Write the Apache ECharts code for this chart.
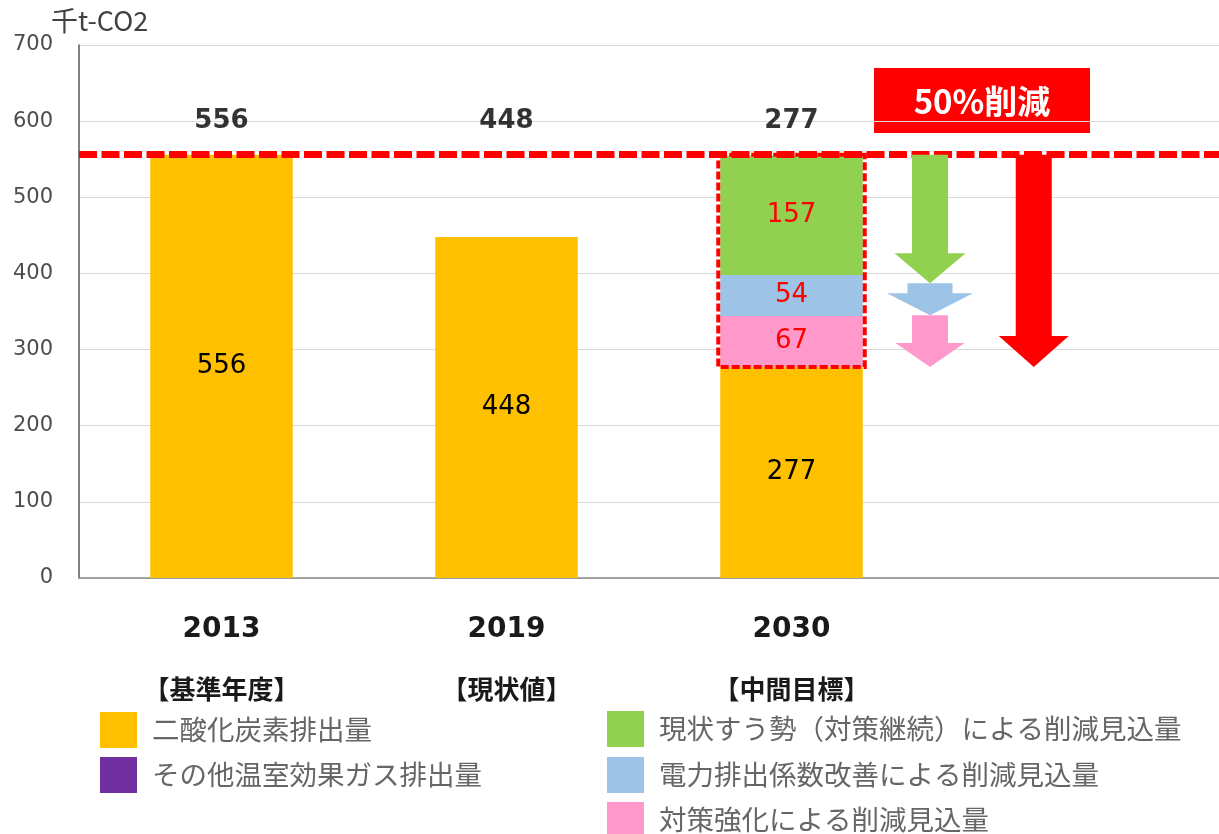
<!DOCTYPE html>
<html><head><meta charset="utf-8">
<script src="https://cdn.jsdelivr.net/npm/echarts@6/dist/echarts.min.js"></script>
<style>html,body{margin:0;padding:0;background:#fff}#c{width:1219px;height:834px}</style>
</head><body><div id="c"></div>
<script>
// ---- data ----
const categories = ['2013', '2019', '2030', ''];
const subLabels = ['【基準年度】', '【現状値】', '【中間目標】', ''];
const co2 = [556, 448, 277, '-'];
const otherGas = [0, 0, 0, '-'];
const reductionPolicy = ['-', '-', 67, '-'];
const reductionPower = ['-', '-', 54, '-'];
const reductionTrend = ['-', '-', 157, '-'];
const totals = [556, 448, 277];
const baseline = 556;
const target = 277;
const arrowTop = [556, 387, 345, 556];
const arrowTip = [387, 345, 277, 277];
const seriesNames = ['二酸化炭素排出量', 'その他温室効果ガス排出量', '現状すう勢（対策継続）による削減見込量', '電力排出係数改善による削減見込量', '対策強化による削減見込量'];
const yMin = 0, yMax = 700, yStep = 100;

// ---- styles ----
const C = { co2: '#FFC000', other: '#7030A0', trend: '#92D050', power: '#9DC3E6', policy: '#FF99CC', red: '#FF0000' };
const arrowStyles = [
  { off: 0.486, sw: 36, hw: 71, hl: 30, color: C.trend },
  { off: 0.486, sw: 45, hw: 86, hl: 22, color: C.power },
  { off: 0.486, sw: 36, hw: 69, hl: 24, color: C.policy },
  { off: 0.85, sw: 36, hw: 70, hl: 31, color: C.red }
];
const NUM = 'DejaVu Sans';
const JP = 'Noto Sans CJK JP';
const totalLabelLevel = 600;
// legend placement: [left, top] for each series name
const legendPos = [[100, 712], [100, 757], [607, 711], [607, 757], [607, 802]];

const chart = echarts.init(document.getElementById('c'), null, { renderer: 'canvas' });
const innerLabel = (color) => ({ show: true, position: 'inside', color: color, fontSize: 26, fontFamily: NUM,
  formatter: p => (p.value === 0 || p.value === '-') ? '' : p.value });

const option = {
  animation: false,
  backgroundColor: '#fff',
  textStyle: { fontFamily: NUM },
  grid: { left: 79, top: 45, width: 1144, height: 533, containLabel: false },
  legend: seriesNames.map((n, i) => ({
    data: [n], orient: 'horizontal', left: legendPos[i][0], top: legendPos[i][1], padding: 0,
    itemWidth: 37, itemHeight: 36, icon: 'rect', selectedMode: false,
    textStyle: { fontFamily: JP, fontSize: 27.5, color: '#666666', padding: [0, 0, 0, 10] }
  })),
  xAxis: {
    type: 'category', data: categories,
    axisTick: { show: false },
    axisLine: { lineStyle: { color: '#898989', width: 1.5 } },
    axisLabel: {
      margin: 27, interval: 0,
      formatter: (v, i) => v ? '{y|' + v + '}\n{s|' + subLabels[i] + '}' : '',
      rich: {
        y: { fontFamily: NUM, fontWeight: 'bold', fontSize: 28, color: '#1a1a1a', lineHeight: 50 },
        s: { fontFamily: JP, fontWeight: 'bold', fontSize: 26, color: '#1a1a1a', lineHeight: 68 }
      }
    }
  },
  yAxis: {
    type: 'value', min: yMin, max: yMax, interval: yStep,
    axisLine: { show: true, lineStyle: { color: '#595959', width: 1.5 } },
    axisTick: { show: false },
    splitLine: { lineStyle: { color: '#d9d9d9', width: 1 } },
    axisLabel: { fontFamily: NUM, fontSize: 21, color: '#4d4d4d', margin: 26 }
  },
  series: [
    { name: seriesNames[0], type: 'bar', stack: 's', data: co2, barWidth: '50%', itemStyle: { color: C.co2 },
      label: innerLabel('#000'),
      markLine: { silent: true, symbol: ['none', 'none'], label: { show: false },
        lineStyle: { color: C.red, width: 7, type: [18, 4.5] }, data: [{ yAxis: baseline }] } },
    { name: seriesNames[1], type: 'bar', stack: 's', data: otherGas, itemStyle: { color: C.other }, label: { show: false } },
    { name: seriesNames[4], type: 'bar', stack: 's', data: reductionPolicy, itemStyle: { color: C.policy }, label: innerLabel(C.red) },
    { name: seriesNames[3], type: 'bar', stack: 's', data: reductionPower, itemStyle: { color: C.power }, label: innerLabel(C.red) },
    { name: seriesNames[2], type: 'bar', stack: 's', data: reductionTrend, itemStyle: { color: C.trend }, label: innerLabel(C.red) },
    { name: 'totals', type: 'scatter', silent: true, symbolSize: 0, z: 10,
      data: totals.map((t, i) => [i, totalLabelLevel]),
      label: { show: true, position: 'inside', fontFamily: NUM, fontWeight: 'bold', fontSize: 26, color: '#000',
        formatter: p => String(totals[p.dataIndex]) } },
    { name: 'box', type: 'custom', silent: true, z: 9, clip: false,
      data: [[2, target, baseline]],
      renderItem: (params, api) => {
        const bw = api.size([1, 0])[0] * 0.5 + 4;
        const pTop = api.coord([api.value(0), api.value(2)]);
        const pBot = api.coord([api.value(0), api.value(1)]);
        return { type: 'rect', shape: { x: pTop[0] - bw / 2, y: pTop[1], width: bw, height: pBot[1] - pTop[1] },
          style: { fill: 'none', stroke: C.red, lineWidth: 4, lineDash: [8, 3] } };
      } },
    { name: 'arrows', type: 'custom', silent: true, z: 8, clip: false,
      data: arrowTop.map((t, i) => [2, t, arrowTip[i]]),
      renderItem: (params, api) => {
        const s = arrowStyles[params.dataIndex];
        const band = api.size([1, 0])[0];
        const top = api.coord([api.value(0), api.value(1)]);
        const tip = api.coord([api.value(0), api.value(2)]);
        const cx = top[0] + band * s.off;
        const y0 = top[1], y2 = tip[1], y1 = y2 - s.hl;
        return { type: 'polygon', shape: { points: [
          [cx - s.sw / 2, y0], [cx + s.sw / 2, y0], [cx + s.sw / 2, y1], [cx + s.hw / 2, y1],
          [cx, y2], [cx - s.hw / 2, y1], [cx - s.sw / 2, y1]] },
          style: { fill: s.color } };
      } }
  ],
  graphic: [
    { type: 'text', left: 51, top: 7, z: 20, style: { text: '千t-CO2', font: '27px "Noto Sans CJK JP"', fill: '#404040' } },
    { type: 'group', left: 874, top: 68, z: 20, children: [
      { type: 'rect', shape: { x: 0, y: 0, width: 216, height: 65 }, style: { fill: C.red } },
      { type: 'text', x: 108, y: 33, style: { text: '50%削減', font: 'bold 33px "Noto Sans CJK JP"', fill: '#fff', align: 'center', verticalAlign: 'middle' } }
    ] }
  ]
};
chart.setOption(option);
</script>
</body></html>
